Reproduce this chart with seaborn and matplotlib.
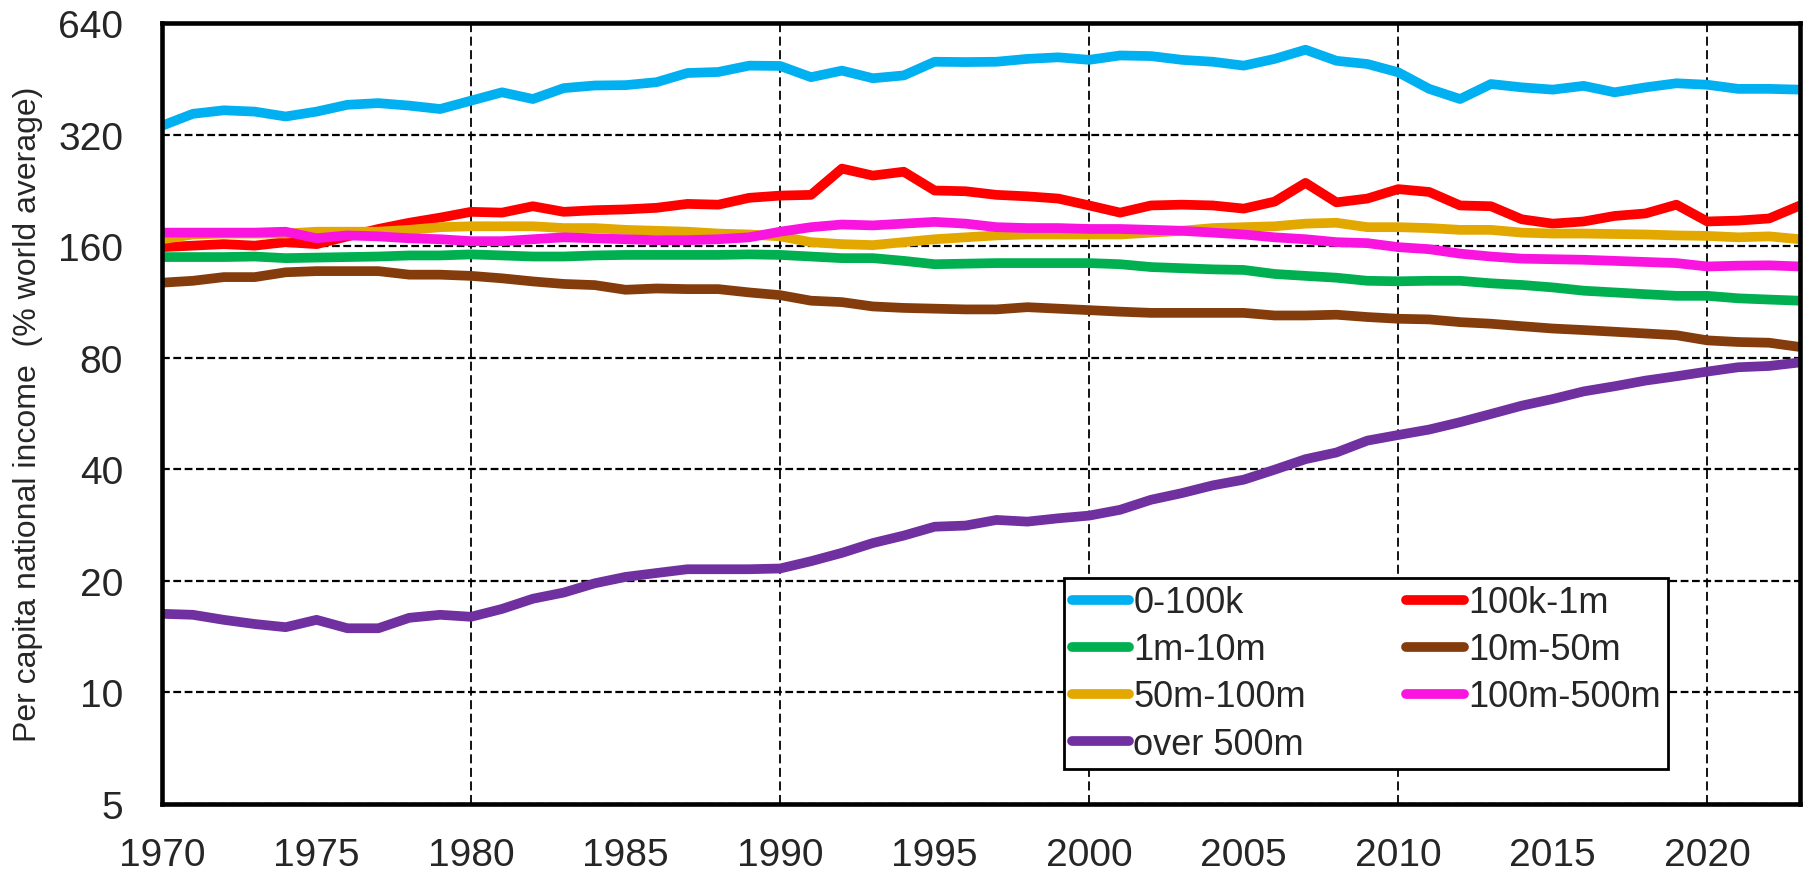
import matplotlib
matplotlib.use("Agg")
import matplotlib.pyplot as plt
import numpy as np
import pandas as pd
import seaborn as sns
from matplotlib.lines import Line2D
from matplotlib.ticker import NullLocator

# --- data ----------------------------------------------------------------
years = list(range(1970, 2024))

groups = ["0-100k", "100k-1m", "1m-10m", "10m-50m", "50m-100m", "100m-500m", "over 500m"]
colors = ["#00B0F0", "#FF0000", "#00B050", "#843C0C", "#E2A800", "#F914E0", "#7030A0"]

v_0_100k = [338, 364, 372, 369, 358, 369, 385, 389, 383, 375,
            395, 416, 399, 427, 434, 435, 443, 469, 472, 491,
            490, 457, 476, 454, 462, 503, 502, 503, 512, 517,
            509, 523, 521, 509, 503, 491, 512, 542, 506, 496,
            471, 425, 399, 438, 429, 423, 433, 416, 429, 440,
            436, 425, 425, 423]
v_100k_1m = [159, 160.5, 162, 160.5, 164, 162, 170, 178, 185, 191,
             198, 197, 205, 198, 200, 201, 203, 208, 207, 216,
             219, 220, 259, 248, 254, 226, 225, 220, 218, 215,
             206, 197, 206, 207, 206, 202, 211, 237, 210, 215,
             228, 224, 206, 205, 189, 184, 186.5, 193, 196, 207,
             186.5, 187.5, 190, 206]
v_1m_10m = [149.5, 149.5, 149.5, 150, 148.5, 149, 149.5, 150, 151, 151,
            152, 151, 150, 150, 151, 151.5, 151.5, 151.5, 151.5, 152,
            151.5, 150, 148.5, 148.5, 146, 143, 143.5, 144, 144, 144,
            144, 143, 140.5, 139.5, 138.5, 138, 134.6, 133, 131.5, 129,
            128.6, 129, 129, 127, 125.7, 123.8, 121.3, 120, 118.7, 117.5,
            117.5, 115.7, 114.8, 114]
v_10m_50m = [127.5, 129, 132, 132, 136, 137, 137, 137, 134, 134,
             133, 131, 128.5, 126.5, 125.6, 122, 123, 122.5, 122.5, 120,
             118, 114, 113, 110, 109, 108.5, 108, 108, 109.5, 108.5,
             107.5, 106.5, 105.7, 105.7, 105.7, 105.7, 104, 104, 104.5, 103,
             101.9, 101.5, 99.8, 98.8, 97.3, 95.9, 95, 94, 93, 92,
             89.1, 88.2, 87.8, 85.5]
v_50m_100m = [167, 172, 173, 173, 173, 175, 175, 175, 177, 180,
              181, 181, 181, 179, 179, 177, 176, 175, 173, 172,
              170, 164, 162, 161, 164, 167, 169, 171, 172, 172,
              172, 172, 174, 176, 179, 180, 181, 184, 185, 180,
              180, 179, 177, 177, 174, 173, 173, 172.5, 172, 171,
              170.5, 169, 170, 167]
v_100m_500m = [174, 174, 174, 174, 175, 168, 171, 170, 168, 167,
               165, 165, 167, 169, 168, 167, 166, 166, 167, 169,
               175, 180, 183, 182, 184, 186, 184, 180, 179, 179,
               178, 178, 177, 176, 174, 172, 169, 167, 164, 163,
               159, 157, 152.7, 150, 148, 147.5, 147, 146, 145, 144,
               141, 141.7, 142, 141]
v_over_500m = [16.3, 16.2, 15.7, 15.3, 15.0, 15.7, 14.9, 14.9, 15.9, 16.2,
               16.0, 16.8, 17.9, 18.6, 19.7, 20.5, 21.0, 21.5, 21.5, 21.5,
               21.6, 22.6, 23.8, 25.3, 26.5, 28.0, 28.2, 29.2, 28.9, 29.5,
               30.0, 31.1, 33.1, 34.5, 36.2, 37.5, 39.9, 42.6, 44.4, 47.8,
               49.5, 51.2, 53.6, 56.4, 59.4, 61.9, 64.9, 67.0, 69.4, 71.3,
               73.4, 75.4, 76.0, 77.7]

y_ticks = [5, 10, 20, 40, 80, 160, 320, 640]
x_labels = list(range(1970, 2021, 5))

series = [v_0_100k, v_100k_1m, v_1m_10m, v_10m_50m, v_50m_100m, v_100m_500m, v_over_500m]
df = pd.DataFrame({
    "year": years * len(groups),
    "value": np.concatenate(series),
    "group": np.repeat(groups, len(years)),
})

# --- style ----------------------------------------------------------------
sns.set_style("white")
plt.rcParams["font.family"] = ["Liberation Sans", "DejaVu Sans"]

fig, ax = plt.subplots(figsize=(18.04, 8.78), dpi=100)
fig.subplots_adjust(left=0.0898, right=0.9978, top=0.9727, bottom=0.0831)

sns.lineplot(data=df, x="year", y="value", hue="group", hue_order=groups,
             palette=colors, linewidth=7, legend=False, ax=ax,
             solid_joinstyle="round", solid_capstyle="butt")

ax.set_yscale("log", base=2)
ax.set_ylim(5, 640)
ax.set_yticks(y_ticks)
ax.set_yticklabels([str(t) for t in y_ticks])
ax.yaxis.set_minor_locator(NullLocator())

ax.set_xlim(1970, 2023)
decades = [x for x in x_labels if x % 10 == 0]
halves = [x for x in x_labels if x % 10 != 0]
ax.set_xticks(decades)
ax.set_xticklabels([str(x) for x in decades])
ax.set_xticks(halves, minor=True)
ax.set_xticklabels([str(x) for x in halves], minor=True)

ax.tick_params(axis="y", which="major", direction="out", length=11, width=1.5,
               labelsize=28, pad=17, color="black")
ax.tick_params(axis="x", which="major", direction="out", length=12, width=1.2,
               labelsize=28, pad=12, color="#555555")
ax.tick_params(axis="x", which="minor", length=0, labelsize=28, pad=24)

ax.set_xlabel("")
ax.set_ylabel("Per capita national income  (% world average)", fontsize=23)
ax.yaxis.set_label_coords(-0.0726, 0.5)

ax.yaxis.grid(True, color="black", linestyle=(0, (3.5, 1.6)), linewidth=1.6)
ax.xaxis.grid(True, which="major", color="black", linestyle=(0, (5, 2.5)), linewidth=1.3)
ax.set_axisbelow(True)

for sp in ax.spines.values():
    sp.set_color("black")
    sp.set_linewidth(3.3)
    sp.set_visible(True)

handles = [Line2D([], [], color=c, linewidth=7, solid_capstyle="round") for c in colors]
order = [0, 2, 4, 6, 1, 3, 5]
leg = ax.legend([handles[i] for i in order], [groups[i] for i in order],
                ncol=2, loc="upper center", bbox_to_anchor=(0.7352, 0.2894),
                borderaxespad=0, fontsize=26, handlelength=1.6, handletextpad=0.11,
                columnspacing=2.78, labelspacing=0.335, borderpad=0.2,
                frameon=True, fancybox=False, edgecolor="black", framealpha=1)
leg.get_frame().set_linewidth(2)

fig.savefig("out.png", dpi=100)
